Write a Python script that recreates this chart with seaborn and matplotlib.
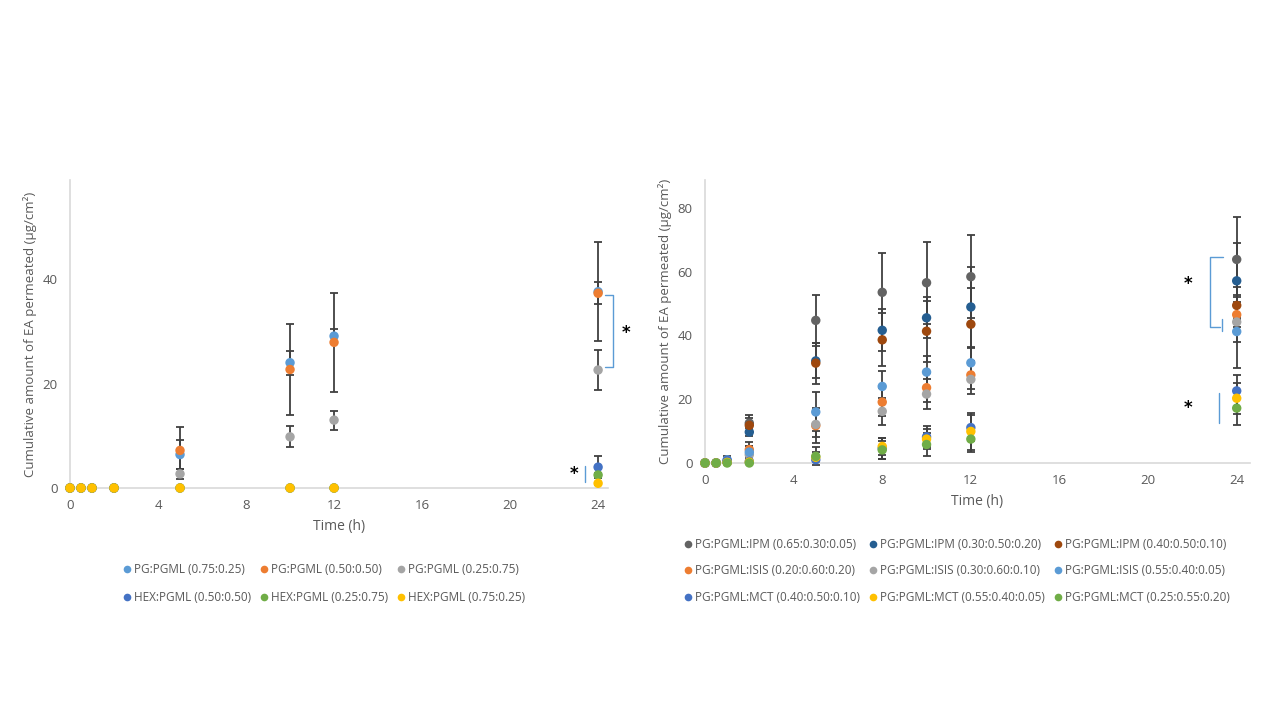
import numpy as np
import pandas as pd
import matplotlib
matplotlib.use("Agg")
import matplotlib.pyplot as plt
from matplotlib.lines import Line2D
import seaborn as sns

# ---- left panel: binary systems ----
left_time = [0, 0.5, 1, 2, 5, 10, 12, 24]
left_names = ["PG:PGML (0.75:0.25)", "PG:PGML (0.50:0.50)", "PG:PGML (0.25:0.75)",
              "HEX:PGML (0.50:0.50)", "HEX:PGML (0.25:0.75)", "HEX:PGML (0.75:0.25)"]
left_colors = ["#5B9BD5", "#ED7D31", "#A5A5A5", "#4472C4", "#70AD47", "#FFC000"]
pg_075 = [0, 0, 0, 0, 6.4, 24.0, 29.1, 37.6]
pg_050 = [0, 0, 0, 0, 7.2, 22.7, 27.9, 37.3]
pg_025 = [0, 0, 0, 0, 2.7, 9.8, 13.0, 22.6]
hex_050 = [0, 0, 0, 0, 0, 0, 0, 4.0]
hex_025 = [0, 0, 0, 0, 0, 0, 0, 2.5]
hex_075 = [0, 0, 0, 0, 0, 0, 0, 0.9]
pg_075_sd = [0, 0, 0, 0, 2.7, 2.3, 1.4, 9.5]
pg_050_sd = [0, 0, 0, 0, 4.5, 8.7, 9.5, 2.1]
pg_025_sd = [0, 0, 0, 0, 1.0, 2.0, 1.8, 3.8]
hex_050_sd = [0, 0, 0, 0, 0, 0, 0, 2.1]
hex_025_sd = [0, 0, 0, 0, 0, 0, 0, 0.3]
hex_075_sd = [0, 0, 0, 0, 0, 0, 0, 0.3]
left_vals = [pg_075, pg_050, pg_025, hex_050, hex_025, hex_075]
left_sds = [pg_075_sd, pg_050_sd, pg_025_sd, hex_050_sd, hex_025_sd, hex_075_sd]

# ---- right panel: ternary systems ----
right_time = [0, 0.5, 1, 2, 5, 8, 10, 12, 24]
right_names = ["PG:PGML:IPM (0.65:0.30:0.05)", "PG:PGML:IPM (0.30:0.50:0.20)", "PG:PGML:IPM (0.40:0.50:0.10)",
               "PG:PGML:ISIS (0.20:0.60:0.20)", "PG:PGML:ISIS (0.30:0.60:0.10)", "PG:PGML:ISIS (0.55:0.40:0.05)",
               "PG:PGML:MCT (0.40:0.50:0.10)", "PG:PGML:MCT (0.55:0.40:0.05)", "PG:PGML:MCT (0.25:0.55:0.20)"]
right_colors = ["#636363", "#255E91", "#9E480E", "#ED7D31", "#A5A5A5", "#5B9BD5",
                "#4472C4", "#FFC000", "#70AD47"]
ipm_065 = [0, 0, 0.5, 12.5, 44.7, 53.5, 56.5, 58.4, 63.8]
ipm_030 = [0, 0, 0.4, 9.7, 32.0, 41.6, 45.5, 48.9, 57.1]
ipm_040 = [0, 0, 0.3, 11.8, 31.3, 38.6, 41.3, 43.5, 49.4]
isis_020 = [0, 0, 0.3, 4.2, 11.7, 19.1, 23.6, 27.6, 46.5]
isis_030 = [0, 0, 0.3, 2.6, 12.1, 16.2, 21.6, 26.2, 44.2]
isis_055 = [0, 0, 1.0, 3.4, 16.0, 24.0, 28.5, 31.4, 41.2]
mct_040 = [0, 0, 0.8, 0.5, 1.0, 4.6, 8.2, 11.1, 22.6]
mct_055 = [0, 0, 0.2, 0.3, 1.8, 5.2, 7.5, 9.9, 20.3]
mct_025 = [0, 0, 0, 0, 2.1, 4.1, 5.8, 7.5, 17.2]
ipm_065_sd = [0, 0, 0.5, 2.6, 7.9, 12.2, 12.8, 13.0, 13.3]
ipm_030_sd = [0, 0, 0.3, 1.2, 5.5, 6.6, 6.4, 12.6, 11.9]
ipm_040_sd = [0, 0, 0.3, 2.3, 6.4, 8.3, 9.6, 11.5, 2.6]
isis_020_sd = [0, 0, 0.2, 2.3, 5.4, 4.5, 4.6, 4.3, 8.7]
isis_030_sd = [0, 0, 0.2, 2.6, 3.8, 4.3, 4.6, 4.7, 1.5]
isis_055_sd = [0, 0, 1.1, 1.8, 6.1, 4.9, 5.1, 4.7, 11.3]
mct_040_sd = [0, 0, 0.5, 0.4, 0.8, 3.2, 3.3, 4.1, 5.1]
mct_055_sd = [0, 0, 0.2, 0.3, 1.5, 2.6, 3.1, 5.7, 4.9]
mct_025_sd = [0, 0, 0, 0, 2.8, 2.9, 3.6, 3.9, 5.2]
right_vals = [ipm_065, ipm_030, ipm_040, isis_020, isis_030, isis_055, mct_040, mct_055, mct_025]
right_sds = [ipm_065_sd, ipm_030_sd, ipm_040_sd, isis_020_sd, isis_030_sd, isis_055_sd,
             mct_040_sd, mct_055_sd, mct_025_sd]

x_ticks = [0, 4, 8, 12, 16, 20, 24]
ylabel = "Cumulative amount of EA permeated (µg/cm²)"

sns.set_theme(style="white")
plt.rcParams["font.family"] = ["Open Sans", "DejaVu Sans"]

fig = plt.figure(figsize=(12.8, 7.2), dpi=100)
ax1 = fig.add_axes([70 / 1280, 232 / 720, 538 / 1280, 308 / 720])
ax2 = fig.add_axes([705 / 1280, 257 / 720, 545 / 1280, 283 / 720])


def draw_panel(ax, time, names, colors, vals, sds, xmax, ymax, yticks):
    rows = []
    for name, v in zip(names, vals):
        for t, y in zip(time, v):
            rows.append({"time": t, "value": y, "series": name})
    df = pd.DataFrame(rows)
    for v, sd in zip(vals, sds):
        ax.errorbar(time, v, yerr=sd, fmt="none", ecolor="#404040", elinewidth=1.3,
                    capsize=3.0, capthick=1.3, zorder=2, clip_on=False)
    sns.scatterplot(data=df, x="time", y="value", hue="series", hue_order=names,
                    palette=colors, s=46, linewidth=0, legend=False, ax=ax,
                    zorder=3, clip_on=False)
    ax.set_xlim(0, xmax)
    ax.set_ylim(0, ymax)
    ax.set_xticks(x_ticks)
    ax.set_yticks(yticks)
    for side in ["top", "right"]:
        ax.spines[side].set_visible(False)
    for side in ["left", "bottom"]:
        ax.spines[side].set_color("#D9D9D9")
        ax.spines[side].set_linewidth(1.2)
    ax.tick_params(length=0, labelsize=9.5, labelcolor="#595959")
    ax.tick_params(axis="x", pad=8)
    ax.tick_params(axis="y", pad=9)
    ax.set_xlabel("Time (h)", fontsize=10, color="#595959", labelpad=5)
    ax.set_ylabel(ylabel, fontsize=9.5, color="#595959", labelpad=4)
    ax.set_facecolor("none")


draw_panel(ax1, left_time, left_names, left_colors, left_vals, left_sds, 24.45, 59, [0, 20, 40])
draw_panel(ax2, right_time, right_names, right_colors, right_vals, right_sds, 24.6, 88.7,
           [0, 20, 40, 60, 80])

# significance marks
bc = "#5B9BD5"
star = dict(fontsize=12, fontweight="bold", family="DejaVu Sans", color="black",
            ha="center", va="center", clip_on=False)
ax1.plot([24.3, 24.66, 24.66, 24.3], [36.9, 36.9, 23.2, 23.2], color=bc, lw=1, clip_on=False)
ax1.text(25.25, 29.7, "*", **star)
ax1.plot([23.4, 23.4], [4.3, 1.2], color=bc, lw=1, clip_on=False)
ax1.text(22.9, 2.6, "*", **star)

ax2.plot([23.4, 22.8, 22.8, 23.25], [64.5, 64.5, 42.7, 42.7], color=bc, lw=1)
ax2.plot([23.35, 23.35], [45.1, 41.4], color=bc, lw=1)
ax2.text(21.8, 56.0, "*", **star)
ax2.plot([23.2, 23.2], [22.0, 12.6], color=bc, lw=1)
ax2.text(21.8, 17.2, "*", **star)


def legend_handles(names, colors):
    return [Line2D([0], [0], marker="o", linestyle="none", markersize=5.5,
                   markerfacecolor=c, markeredgewidth=0, label=n)
            for n, c in zip(names, colors)]


def row_major(items, nrows, ncols):
    return [items[r * ncols + c] for c in range(ncols) for r in range(nrows)]


h1 = row_major(legend_handles(left_names, left_colors), 2, 3)
fig.legend(handles=h1, loc="center", bbox_to_anchor=(323 / 1280, 1 - 583.5 / 720), ncol=3,
           frameon=False, fontsize=8.5, labelcolor="#595959", handletextpad=0.1,
           columnspacing=0.6, labelspacing=1.25, handlelength=1.0)
h2 = row_major(legend_handles(right_names, right_colors), 3, 3)
fig.legend(handles=h2, loc="center", bbox_to_anchor=(956 / 1280, 1 - 571 / 720), ncol=3,
           frameon=False, fontsize=8.5, labelcolor="#595959", handletextpad=0.1,
           columnspacing=0.6, labelspacing=1.15, handlelength=1.0)

fig.savefig("out.png", dpi=100, facecolor="white")
